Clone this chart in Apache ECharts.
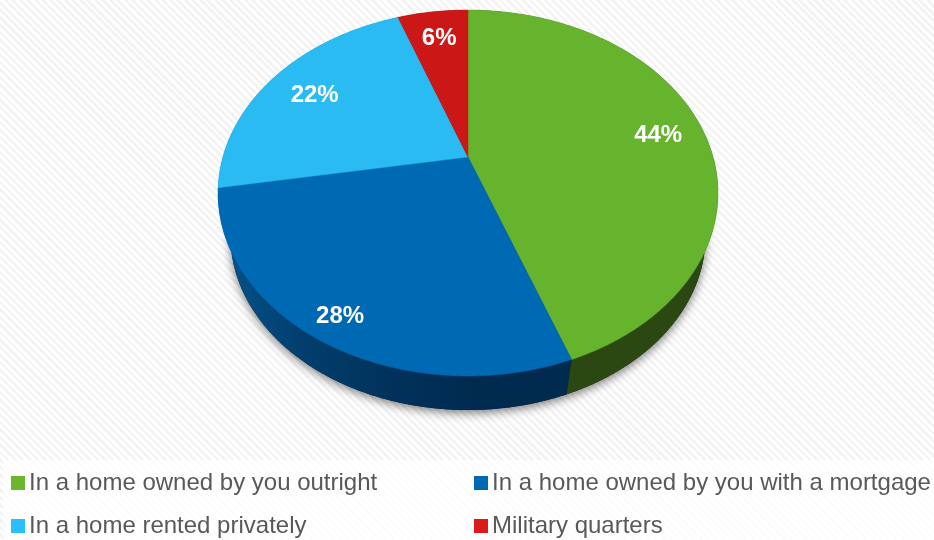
<!DOCTYPE html>
<html>
<head>
<meta charset="utf-8">
<title>Home ownership</title>
<style>
html, body { margin: 0; padding: 0; }
body {
	width: 934px; height: 540px; overflow: hidden;
	background: repeating-linear-gradient(45deg, #ffffff 0, #ffffff 2.7px, #f3f3f3 2.7px, #f3f3f3 5.3px);
}
#main { width: 934px; height: 540px; }
</style>
<script src="https://cdn.jsdelivr.net/npm/echarts@6/dist/echarts.min.js"></script>
</head>
<body>
<div id="main"></div>
<script>
var categories = ['In a home owned by you outright', 'In a home owned by you with a mortgage', 'In a home rented privately', 'Military quarters'];
var shares = [44.4, 27.9, 22.2, 5.5];
var percentLabels = ['44%', '28%', '22%', '6%'];

var topColors = ['#66b32e', '#0069b3', '#29bbf1', '#cc1717'];
var legendColors = ['#6ab72f', '#0069b3', '#29bfff', '#dc1a1a'];
var labelRadius = [0.81, 0.885, 0.78, 0.79];
var labelNudgeY = [3, 1, 3, 0];
var legendSpots = [[11, 471], [474, 471], [11, 514], [474, 514]];

// 透视参数，圆心投影在 (468,157)，前边更近
var cx = 468, cy = 157, persp = -0.1967, rx = 245.1, ry = 175.9;
// 底面相对顶面缩放
var baseScale = 0.95, baseCy = 202;

function project(deg, f) {
	var a = deg * Math.PI / 180;
	var u = Math.sin(a) * f, v = -Math.cos(a) * f;
	var w = 1 + persp * v;
	return [cx + rx * u / w, cy + ry * v / w];
}
function toBase(p) {
	return [cx + (p[0] - cx) * baseScale, baseCy + (p[1] - cy) * baseScale];
}
function arc(from, to) {
	var pts = [];
	var n = Math.ceil((to - from) * 2);
	for (var i = 0; i <= n; i++) {
		pts.push(project(from + (to - from) * i / n, 1));
	}
	return pts;
}

var total = shares.reduce(function(s, x) { return s + x; }, 0);
var startDeg = [];
var run = 0;
shares.forEach(function(x) {
	startDeg.push(run / total * 360);
	run += x;
});
function endDeg(i) {
	return startDeg[i] + shares[i] / total * 360;
}

var sideFills = [
	'#2c4812',
	{ type: 'linear', x: 0, y: 0, x2: 1, y2: 0, colorStops: [
		{ offset: 0, color: '#05568f' }, { offset: 0.05, color: '#044f86' }, { offset: 0.23, color: '#023f6e' },
		{ offset: 0.51, color: '#01315a' }, { offset: 0.74, color: '#002a4e' }, { offset: 1, color: '#002a4e' }
	] },
	'#1c7aa8',
	'#7a0e0e'
];

function renderSide(params) {
	var i = params.dataIndex;
	var top = arc(startDeg[i], endDeg(i));
	var bottom = top.map(toBase).reverse();
	var children = [];
	if (i === 0) {
		// 阴影底盘
		children.push({
			type: 'polygon',
			shape: { points: arc(0, 360).map(toBase) },
			style: { fill: '#222', shadowBlur: 10, shadowColor: 'rgba(0,0,0,0.5)', shadowOffsetY: 3 }
		});
	}
	children.push({
		type: 'polygon',
		shape: { points: top.concat(bottom) },
		style: { fill: sideFills[i] }
	});
	return { type: 'group', children: children };
}

function renderTop(i) {
	return function() {
		var mid = (startDeg[i] + endDeg(i)) / 2;
		var pos = project(mid, labelRadius[i]);
		return {
			type: 'group',
			children: [{
				type: 'polygon',
				shape: { points: [[cx, cy]].concat(arc(startDeg[i], endDeg(i))) },
				style: { fill: topColors[i], stroke: topColors[i], lineWidth: 0.5 }
			}, {
				type: 'text',
				z2: 10,
				style: {
					x: pos[0], y: pos[1] + labelNudgeY[i], text: percentLabels[i], fill: '#fff',
					font: 'bold 24px "Liberation Sans", Arial, sans-serif',
					align: 'center', verticalAlign: 'middle'
				}
			}]
		};
	};
}

var seriesList = [{
	name: 'side',
	type: 'custom',
	coordinateSystem: 'none',
	silent: true,
	z: 1,
	data: shares,
	renderItem: renderSide
}];
categories.forEach(function(name, i) {
	seriesList.push({
		name: name,
		type: 'custom',
		coordinateSystem: 'none',
		z: 2,
		itemStyle: { color: legendColors[i] },
		data: [{ name: name, value: shares[i] }],
		renderItem: renderTop(i)
	});
});

var legends = categories.map(function(name, i) {
	return {
		data: [name],
		left: legendSpots[i][0],
		top: legendSpots[i][1],
		padding: 0,
		icon: 'rect',
		itemWidth: 14,
		itemHeight: 14,
		itemGap: 0,
		selectedMode: false,
		textStyle: { color: '#595959', fontSize: 24, fontFamily: '"Liberation Sans", Arial, sans-serif', padding: [0, 0, 0, -1] }
	};
});

var charts = echarts.init(document.getElementById('main'));
charts.setOption({
	animation: false,
	backgroundColor: 'transparent',
	graphic: [{
		type: 'rect',
		z: -1,
		shape: { x: 3, y: 460, width: 931, height: 80 },
		style: { fill: 'rgba(255,255,255,0.75)' }
	}],
	legend: legends,
	series: seriesList
});
</script>
</body>
</html>
